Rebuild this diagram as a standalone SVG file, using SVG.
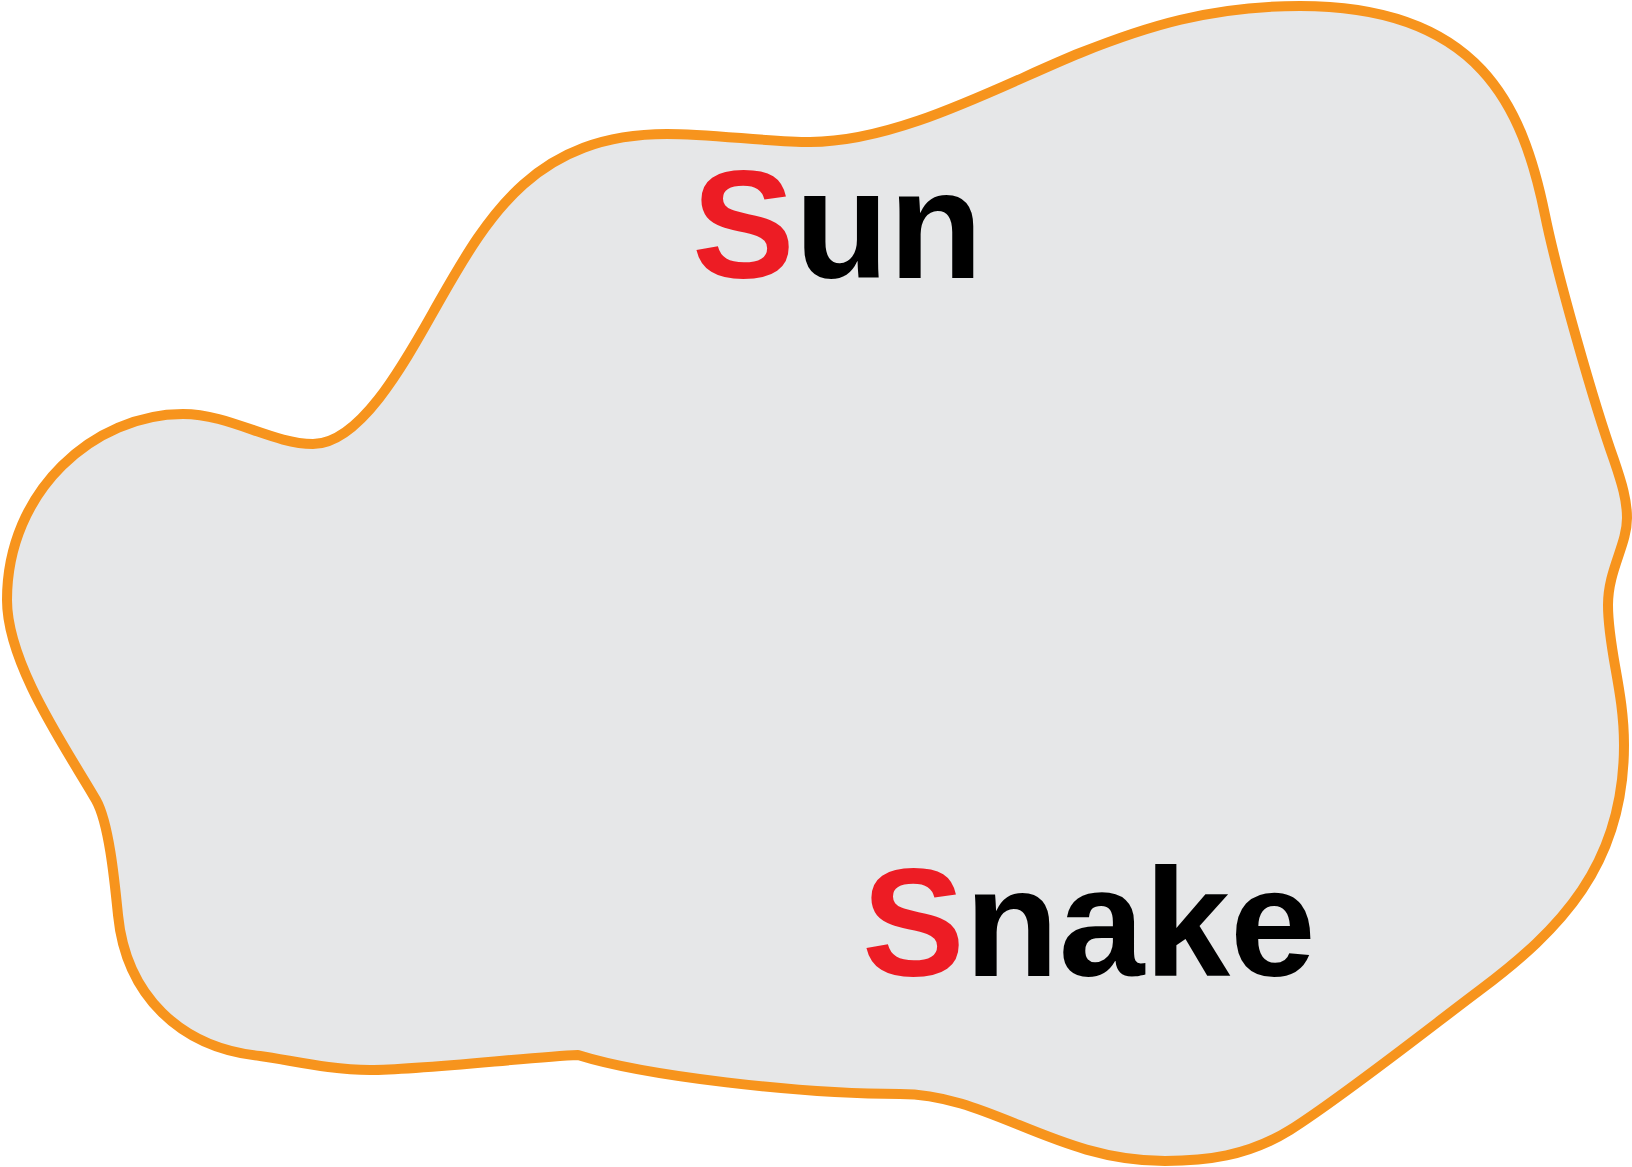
<svg xmlns="http://www.w3.org/2000/svg" width="1632" height="1167" viewBox="0 0 1632 1167">
<style>
.blob{fill:#E6E7E8;stroke:#F7941D;stroke-width:10;stroke-linejoin:round}
.lbl{font-family:"Liberation Sans",Arial,sans-serif;font-weight:bold;font-size:154px;fill:#000}
.init{fill:#ED1C24}
</style>
<rect width="1632" height="1167" fill="#fff"/>
<g id="region">
<path class="blob" d="M7,600 C7,490 95,414 183,414 C230,414 272,444 313,444 C363,444 410.3,352.1 440,300 C489.5,213.1 537,134 667,134 C710,134 770,142 810,142 C900,142 1005.8,82.8 1080,53 C1145,27 1210,6 1300,6 C1480,6 1523,107 1545,215 C1557,274 1594,404 1614,460 C1622,483.5 1627,500 1627,518 C1627,545 1608,570 1608,605 C1608,650 1624,690 1624,745 C1624,865 1560,930 1480,990 C1432,1026 1341,1098 1290,1130 C1247.5,1156.5 1205,1161 1165,1161 C1055,1161 990,1094 900,1094 C800,1094 644.5,1076 578,1055 C530,1057 420,1070 370,1070 C330,1070 290,1060 260,1056 C180,1048 126,995 118,915 C114.5,880 109,823 96,800 C68.5,752 7,665 7,600 Z"/>
</g>
<g id="label-sun">
<text class="lbl" x="692" y="278"><tspan class="init">S</tspan>un</text>
</g>
<g id="label-snake">
<text class="lbl" x="862" y="976"><tspan class="init">S</tspan>nake</text>
</g>
<g id="connectors"></g>
</svg>
